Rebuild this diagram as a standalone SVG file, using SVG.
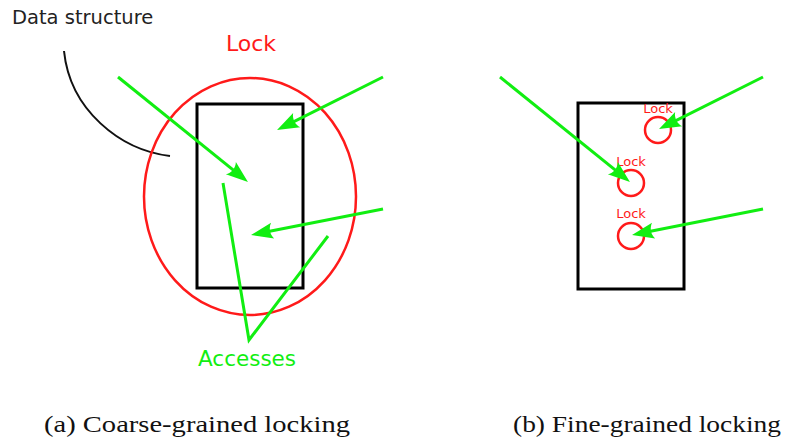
<svg xmlns="http://www.w3.org/2000/svg" width="794" height="440" viewBox="0 0 794 440">
  <defs>
    <style>
      .sans { font-family: "DejaVu Sans", "Liberation Sans", sans-serif; }
      .serif { font-family: "Liberation Serif", "DejaVu Serif", serif; font-size: 23.5px; fill: #111; }
      .box { fill: none; stroke: #000; stroke-width: 3; }
      .lock { fill: none; stroke: #ff1a1a; stroke-width: 2.5; }
      .access { fill: none; stroke: #11ee11; stroke-width: 3; }
      .arrow { fill: none; stroke: #11ee11; stroke-width: 3; marker-end: url(#head); }
    </style>
    <marker id="head" markerUnits="userSpaceOnUse" orient="auto" refX="0" refY="0"
            markerWidth="40" markerHeight="40" viewBox="-20 -20 40 40" overflow="visible">
      <path d="M6,0 L-16,-8 C-12.5,-3.3 -12.5,3.3 -16,8 Z" fill="#11ee11"/>
    </marker>
  </defs>

  <rect width="794" height="440" fill="#fff"/>

  <!-- (a) coarse-grained locking -->
  <g id="coarse-datastructure">
    <rect class="box" x="197" y="104" width="106" height="184"/>
    <path d="M64,51 C70,110 120,150 170,156" fill="none" stroke="#111" stroke-width="2"/>
    <text class="sans" x="12" y="24" font-size="19.5" fill="#222">Data structure</text>
  </g>
  <g id="coarse-lock">
    <ellipse class="lock" cx="250" cy="196.5" rx="106" ry="118.5"/>
    <text class="sans" x="251" y="51" font-size="22" fill="#ff1a1a" text-anchor="middle">Lock</text>
  </g>
  <g id="coarse-accesses">
    <polyline class="access" points="223,183 249,340 328,236"/>
    <text class="sans" x="247" y="366" font-size="21.5" fill="#11ee11" text-anchor="middle">Accesses</text>
  </g>

  <!-- (b) fine-grained locking -->
  <g id="fine-datastructure">
    <rect class="box" x="578" y="103" width="106" height="186"/>
  </g>
  <g id="fine-lock-1">
    <circle class="lock" cx="658" cy="130" r="13"/>
    <text class="sans" x="658" y="113" font-size="13" fill="#ff1a1a" text-anchor="middle">Lock</text>
  </g>
  <g id="fine-lock-2">
    <circle class="lock" cx="631" cy="183" r="13"/>
    <text class="sans" x="631" y="166" font-size="13" fill="#ff1a1a" text-anchor="middle">Lock</text>
  </g>
  <g id="fine-lock-3">
    <circle class="lock" cx="631" cy="236" r="13"/>
    <text class="sans" x="631" y="218" font-size="13" fill="#ff1a1a" text-anchor="middle">Lock</text>
  </g>

  <!-- access arrows -->
  <g id="connectors">
    <line class="arrow" x1="118" y1="77" x2="243.3" y2="178.2"/>
    <line class="arrow" x1="383" y1="77" x2="282.4" y2="127.3"/>
    <line class="arrow" x1="383" y1="209" x2="256.9" y2="233.8"/>
    <line class="arrow" x1="500" y1="77" x2="625.3" y2="178.2"/>
    <line class="arrow" x1="763" y1="77" x2="664.4" y2="126.3"/>
    <line class="arrow" x1="763" y1="209" x2="637.9" y2="233.8"/>
  </g>

  <!-- captions -->
  <text class="serif" x="44" y="432" textLength="306" lengthAdjust="spacingAndGlyphs">(a) Coarse-grained locking</text>
  <text class="serif" x="513" y="432" textLength="268" lengthAdjust="spacingAndGlyphs">(b) Fine-grained locking</text>
</svg>
